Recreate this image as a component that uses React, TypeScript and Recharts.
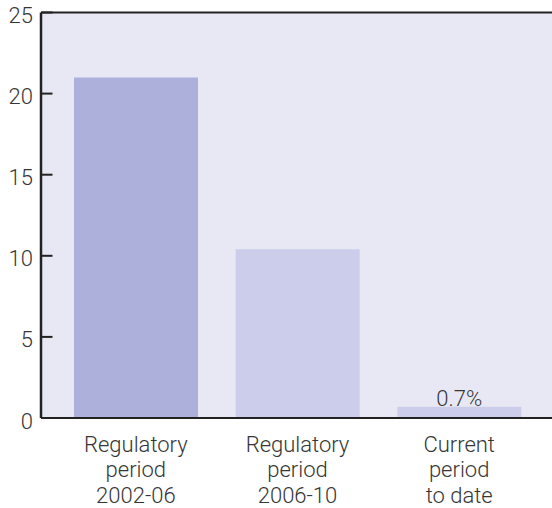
import React from 'react';
import {
  BarChart,
  Bar,
  XAxis,
  YAxis,
  CartesianGrid,
  ReferenceLine,
  Cell,
  LabelList,
} from 'recharts';

// Category names; line breaks mark where each axis label wraps.
const categories = [
  'Regulatory\nperiod\n2002-06',
  'Regulatory\nperiod\n2006-10',
  'Current\nperiod\nto date',
];
const values = [21, 10.4, 0.7];
const barColors = ['#adb0da', '#cbcdea', '#cbcdea'];
const showValueLabel = [false, false, true];
const yTicks = [0, 5, 10, 15, 20, 25];
const yDomain: [number, number] = [0, 25];

const data = categories.map((category, i) => ({
  category,
  value: values[i],
}));

const FONT = 'Roboto, "DejaVu Sans", sans-serif';
const TEXT_COLOR = '#363636';
const AXIS_COLOR = '#222222';
const PLOT_BG = '#e8e8f5';

const CHART_W = 552;
const CHART_H = 508;
const MARGIN = { top: 12.5, right: 0, bottom: 0, left: 0 };
const X_AXIS_H = 90;
const Y_AXIS_W = 41;
const X_PADDING = { left: 14, right: 12 };
// Negative size turns the y-axis tick marks inward, into the plot area.
const Y_TICK_SIZE = -11.5;

// Left axis number, right-aligned just outside the axis line.
const YTick = (props: any) => {
  const x = Number(props.x);
  const y = Number(props.y);
  return (
    <text
      x={x + Y_TICK_SIZE - 8}
      y={y}
      dy={10.5}
      textAnchor="end"
      fontFamily={FONT}
      fontWeight={300}
      fontSize={22}
      fill={TEXT_COLOR}
    >
      {props.payload.value}
    </text>
  );
};

// Bottom axis: multi-line category labels.
const XTick = (props: any) => {
  const x = Number(props.x);
  const y = Number(props.y);
  const lines = String(props.payload.value).split('\n');
  return (
    <text x={x} y={y} textAnchor="middle" fontFamily={FONT} fontWeight={300} fontSize={22} fill={TEXT_COLOR}>
      {lines.map((line, i) => (
        <tspan key={i} x={x} dy={i === 0 ? 33.5 : 25.5}>
          {line}
        </tspan>
      ))}
    </text>
  );
};

const ValueLabel = (props: any) => {
  const { x, y, width, value, index } = props;
  if (!showValueLabel[index]) return null;
  return (
    <text
      x={Number(x) + Number(width) / 2}
      y={Number(y) - 1}
      textAnchor="middle"
      fontFamily={FONT}
      fontWeight={300}
      fontSize={22}
      fill={TEXT_COLOR}
    >
      {`${value}%`}
    </text>
  );
};

// Plot-area fill, laid out with the same axes so it sits exactly under the bars.
function PlotBackground() {
  return (
    <BarChart width={CHART_W} height={CHART_H} data={data} margin={MARGIN}>
      <CartesianGrid fill={PLOT_BG} stroke="none" vertical={false} horizontal={false} />
      <XAxis dataKey="category" height={X_AXIS_H} padding={X_PADDING} axisLine={false} tickLine={false} tick={false} />
      <YAxis width={Y_AXIS_W} domain={yDomain} ticks={yTicks} axisLine={false} tickLine={false} tick={false} />
    </BarChart>
  );
}

function MainChart() {
  return (
    <BarChart width={CHART_W} height={CHART_H} data={data} margin={MARGIN} barSize={124}>
      <XAxis
        dataKey="category"
        height={X_AXIS_H}
        interval={0}
        padding={X_PADDING}
        axisLine={{ stroke: AXIS_COLOR, strokeWidth: 2 }}
        tickLine={false}
        tickSize={0}
        tickMargin={0}
        tick={<XTick />}
      />
      <YAxis
        width={Y_AXIS_W}
        domain={yDomain}
        ticks={yTicks}
        interval={0}
        axisLine={{ stroke: AXIS_COLOR, strokeWidth: 2.5 }}
        tickLine={{ stroke: AXIS_COLOR, strokeWidth: 2 }}
        tickSize={Y_TICK_SIZE}
        tickMargin={0}
        tick={<YTick />}
      />
      <Bar dataKey="value" isAnimationActive={false}>
        {data.map((_, i) => (
          <Cell key={i} fill={barColors[i]} />
        ))}
        <LabelList dataKey="value" content={<ValueLabel />} />
      </Bar>
      <ReferenceLine y={25} stroke={AXIS_COLOR} strokeWidth={2} ifOverflow="visible" />
    </BarChart>
  );
}

export default function App() {
  return (
    <div style={{ position: 'absolute', left: 0, top: 0, width: CHART_W, height: CHART_H, background: '#ffffff' }}>
      <div style={{ position: 'absolute', left: 0, top: 0 }}>
        <PlotBackground />
      </div>
      <div style={{ position: 'absolute', left: 0, top: 0 }}>
        <MainChart />
      </div>
    </div>
  );
}
